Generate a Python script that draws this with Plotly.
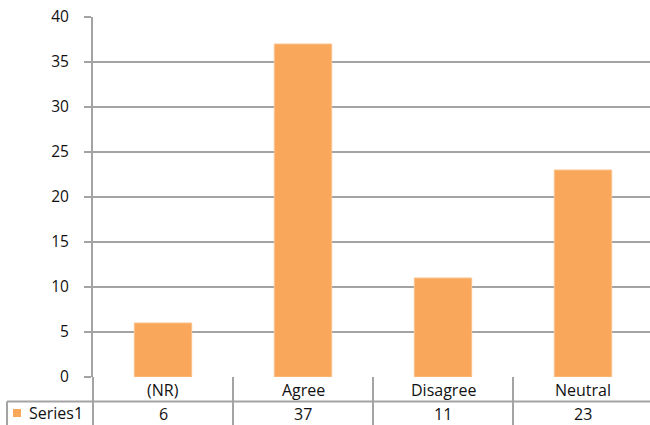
import plotly.graph_objects as go

categories = ["(NR)", "Agree", "Disagree", "Neutral"]
values = [6, 37, 11, 23]
series_name = "Series1"
y_ticks = [0, 5, 10, 15, 20, 25, 30, 35, 40]

W, H = 650, 425
L, R, T, B = 93, 0, 17, 48
plot_w = W - L - R
plot_h = H - T - B
cat_px = 140.0
x_lo = -0.5
x_hi = x_lo + plot_w / cat_px

def py(pix):
    # pixel y -> paper y
    return (H - B - pix) / plot_h

def px(pix):
    return (pix - L) / plot_w

GRID = "#A3A3A3"
FONT = "Open Sans, Lato, sans-serif"
BAR = "#F9A75A"
TXT = "#111111"

fig = go.Figure()
fig.add_trace(go.Bar(
    x=list(range(len(categories))), y=values, width=0.41,
    marker=dict(color=BAR, line=dict(color="#FBC28D", width=1)),
    name=series_name, showlegend=False, hoverinfo="skip",
))

shapes = []
row1_bot = 401.5
row2_bot = 430
shapes.append(dict(type="line", xref="paper", yref="paper", x0=px(7), x1=1.02,
                   y0=py(row1_bot), y1=py(row1_bot), line=dict(color=GRID, width=2)))
shapes.append(dict(type="line", xref="paper", yref="paper", x0=px(7), x1=px(7),
                   y0=py(row1_bot), y1=py(row2_bot), line=dict(color=GRID, width=2)))
shapes.append(dict(type="line", xref="paper", yref="paper", x0=0, x1=0,
                   y0=0, y1=py(row2_bot), line=dict(color=GRID, width=2)))
for i in range(len(categories) - 1):
    shapes.append(dict(type="line", xref="x", yref="paper", x0=i + 0.5, x1=i + 0.5,
                       y0=0, y1=py(row2_bot), line=dict(color=GRID, width=2)))
shapes.append(dict(type="rect", xref="paper", yref="paper", x0=px(13), x1=px(21),
                   y0=py(417), y1=py(409), fillcolor=BAR, line=dict(width=0)))

annotations = []
for i, (c, v) in enumerate(zip(categories, values)):
    annotations.append(dict(x=i, xref="x", y=py(389.5), yref="paper", text=c,
                            showarrow=False, font=dict(family=FONT, size=16, color=TXT),
                            xanchor="center", yanchor="middle"))
    annotations.append(dict(x=i, xref="x", y=py(414), yref="paper", text=str(v),
                            showarrow=False, font=dict(family=FONT, size=16, color=TXT),
                            xanchor="center", yanchor="middle"))
annotations.append(dict(x=px(27), xref="paper", y=py(413), yref="paper", text=series_name,
                        showarrow=False, font=dict(family=FONT, size=16, color=TXT),
                        xanchor="left", yanchor="middle"))

fig.update_layout(
    width=W, height=H,
    margin=dict(l=L, r=R, t=T, b=B, pad=0),
    paper_bgcolor="white", plot_bgcolor="white",
    showlegend=False,
    xaxis=dict(range=[x_lo, x_hi], showticklabels=False, showgrid=False,
               zeroline=False, showline=False, ticks=""),
    yaxis=dict(range=[0, 40], tickvals=y_ticks, showgrid=True, gridcolor=GRID, gridwidth=2,
               zeroline=False, showline=True, linecolor=GRID, linewidth=2,
               ticks="outside", ticklen=7, tickcolor=GRID, tickwidth=2,
               ticklabelstandoff=12,
               tickfont=dict(family=FONT, size=15.5, color=TXT)),
    shapes=shapes, annotations=annotations,
    bargap=0.59,
)

fig.write_html("out.html", config={"displayModeBar": False},
               post_script="document.body.style.margin='0';")
